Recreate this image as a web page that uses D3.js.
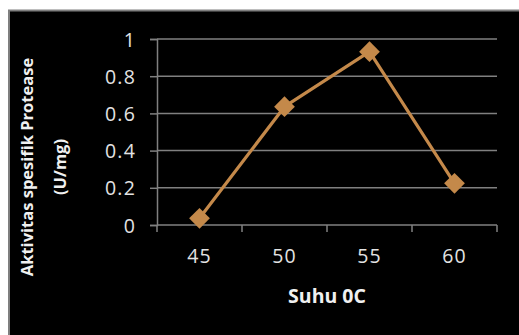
<!DOCTYPE html>
<html>
<head>
<meta charset="utf-8">
<script src="https://cdn.jsdelivr.net/npm/d3@7"></script>
<style>
  html, body { margin: 0; padding: 0; background: #ffffff; }
  svg { display: block; }
  text { font-family: "Open Sans", "Noto Sans", sans-serif; }
</style>
</head>
<body>
<script>
// Specific protease activity (U/mg) measured at each temperature
const temperatures = ["45", "50", "55", "60"];
const activity = [0.036, 0.636, 0.932, 0.224];
const yTicks = [0, 0.2, 0.4, 0.6, 0.8, 1];
const xTitle = "Suhu 0C";
const yTitle = ["Aktivitas spesifik Protease", "(U/mg)"];

const W = 519, H = 335;
const svg = d3.select("body").append("svg").attr("width", W).attr("height", H);

// chart background panel with grey frame
svg.append("rect")
  .attr("x", 9).attr("y", 10.5).attr("width", W).attr("height", H)
  .attr("fill", "#000").attr("stroke", "#7f7f7f").attr("stroke-width", 2);

const plot = { left: 157, right: 497, top: 39, bottom: 225 };

const x = d3.scaleBand().domain(temperatures).range([plot.left, plot.right]);
const y = d3.scaleLinear().domain([0, 1]).range([plot.bottom, plot.top]);

const labelColor = "#e3e3e3";
const labelSize = 19.5;

// horizontal gridlines
svg.append("g").selectAll("line").data(yTicks.filter(d => d > 0)).join("line")
  .attr("x1", plot.left).attr("x2", plot.right)
  .attr("y1", d => y(d)).attr("y2", d => y(d))
  .attr("stroke", "#808080").attr("stroke-width", 1.5);

// y axis
const yAxis = svg.append("g").attr("transform", `translate(${plot.left},0)`)
  .call(d3.axisLeft(y).tickValues(yTicks).tickFormat(d => String(d)).tickSize(7).tickPadding(14));
yAxis.select(".domain").attr("stroke", "#808080").attr("stroke-width", 1.5);
yAxis.selectAll(".tick line").attr("stroke", "#808080").attr("stroke-width", 1.5);
yAxis.selectAll(".tick text").attr("fill", labelColor).attr("font-size", labelSize)
  .attr("letter-spacing", 1.2).attr("dy", "0.36em")
  .attr("font-family", "'Open Sans', sans-serif");

// x axis with ticks on the category boundaries
const xAxis = svg.append("g").attr("transform", `translate(0,${plot.bottom})`);
xAxis.append("line").attr("x1", plot.left).attr("x2", plot.right)
  .attr("stroke", "#808080").attr("stroke-width", 1.5);
const bounds = temperatures.map(t => x(t)).concat([x(temperatures[temperatures.length - 1]) + x.bandwidth()]);
xAxis.selectAll("line.tick").data(bounds).join("line").attr("class", "tick")
  .attr("x1", d => d).attr("x2", d => d).attr("y1", 0).attr("y2", 7)
  .attr("stroke", "#808080").attr("stroke-width", 1.5);
xAxis.selectAll("text").data(temperatures).join("text")
  .attr("x", d => x(d) + x.bandwidth() / 2).attr("y", 38)
  .attr("text-anchor", "middle").attr("fill", labelColor).attr("font-size", labelSize)
  .attr("letter-spacing", 1.2)
  .text(d => d);

// data line and diamond markers
const line = d3.line()
  .x((d, i) => x(temperatures[i]) + x.bandwidth() / 2)
  .y(d => y(d));
const color = "#c4894a";
svg.append("path").datum(activity)
  .attr("d", line).attr("fill", "none").attr("stroke", color).attr("stroke-width", 3.2)
  .attr("stroke-linejoin", "round");
svg.append("g").selectAll("path").data(activity).join("path")
  .attr("d", d3.symbol().type(d3.symbolSquare).size(215))
  .attr("transform", (d, i) => `translate(${x(temperatures[i]) + x.bandwidth() / 2},${y(d)}) rotate(45)`)
  .attr("fill", color);

// axis titles
svg.append("text")
  .attr("x", (plot.left + plot.right) / 2).attr("y", 303)
  .attr("text-anchor", "middle").attr("fill", "#f0f0f0")
  .attr("font-size", 19.5).attr("font-weight", "bold")
  .text(xTitle);

const yt = svg.append("g").attr("transform", "translate(0,167) rotate(-90)");
yt.append("text").attr("x", 0).attr("y", 33)
  .attr("text-anchor", "middle").attr("fill", "#f0f0f0")
  .attr("font-size", 16.5).attr("font-weight", "bold")
  .text(yTitle[0]);
yt.append("text").attr("x", 0).attr("y", 66)
  .attr("text-anchor", "middle").attr("fill", "#f0f0f0")
  .attr("font-size", 16.5).attr("font-weight", "bold")
  .text(yTitle[1]);
</script>
</body>
</html>
